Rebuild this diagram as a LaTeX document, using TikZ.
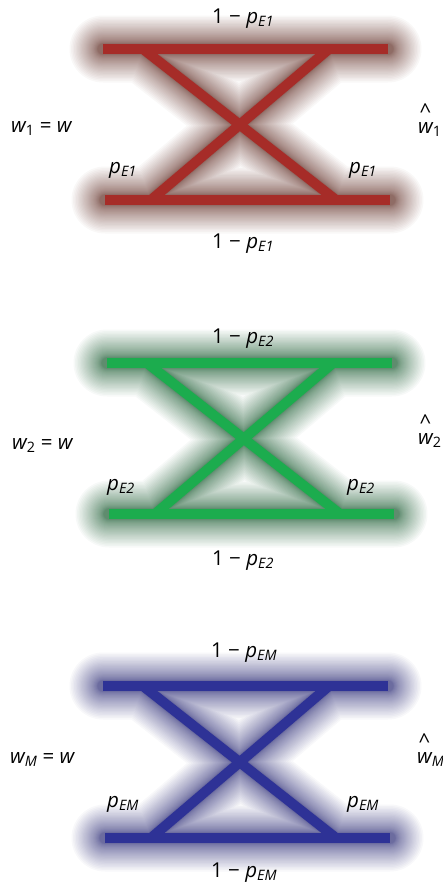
\documentclass[tikz,border=0pt]{standalone}
\usepackage{fontspec}
\setmainfont{Open Sans}
\definecolor{barred}{RGB}{166,44,40}
\definecolor{glowred}{RGB}{95,40,30}
\definecolor{bargreen}{RGB}{28,172,78}
\definecolor{glowgreen}{RGB}{20,90,45}
\definecolor{barblue}{RGB}{46,50,150}
\definecolor{glowblue}{RGB}{40,40,120}
\newcommand\pE[1]{{\itshape p}\textsubscript{\itshape E#1}}
\newcommand\wlab[1]{{\itshape w}\textsubscript{#1}}
\newcommand\what[1]{\shortstack[c]{\textasciicircum\hphantom{\textsubscript{#1}}\\[1pt]\wlab{#1}}}
\newcommand\chan[6]{%
  % #1 name, #2 bar colour, #3 glow colour, #4 top y, #5 bottom y, #6 x shift
  \begin{scope}[xshift=#6]
    \coordinate (#1a) at (103,#4); \coordinate (#1b) at (388,#4);
    \coordinate (#1c) at (105,#5); \coordinate (#1d) at (390,#5);
    \coordinate (#1tl) at (143,#4); \coordinate (#1br) at (336,#5);
    \coordinate (#1bl) at (151,#5); \coordinate (#1tr) at (329,#4);
    \foreach \i in {1,...,32}{
      \pgfmathsetmacro\lw{11+56*(\i/32)^1.8}
      \draw[#3, line width=\lw, draw opacity=0.03, line cap=round, shift={(6,7)}]
        (#1a) -- (#1b) (#1c) -- (#1d) (#1tl) -- (#1br) (#1bl) -- (#1tr);
    }
    \draw[bar, #2] (#1a) -- (#1b);
    \draw[bar, #2] (#1c) -- (#1d);
    \draw[bar, #2] (#1tl) -- (#1br);
    \draw[bar, #2] (#1bl) -- (#1tr);
  \end{scope}}
\begin{document}
\begin{tikzpicture}[x=1pt,y=-1pt,
  bar/.style={line width=10pt, line cap=butt},
  lab/.style={inner sep=0pt, anchor=base west, font=\fontsize{20.5}{22}\selectfont}]
\useasboundingbox[fill=white] (0,0) rectangle (443,889);
\chan{A}{barred}{glowred}{49}{200}{0}
\chan{B}{bargreen}{glowgreen}{363}{514}{4}
\chan{C}{barblue}{glowblue}{686}{838}{0}
% panel 1 labels
\node[lab] (A1) at (212,23) {1 − \pE{1}};
\node[lab] (A2) at (212,248) {1 − \pE{1}};
\node[lab] (A3) at (109,173) {\pE{1}};
\node[lab] (A4) at (349,173) {\pE{1}};
\node[lab] (A5) at (11,132) {\wlab{1} = {\itshape w}};
\node[lab] (A6) at (418,133) {\what{1}};
% panel 2 labels
\node[lab] (B1) at (212,343) {1 − \pE{2}};
\node[lab] (B2) at (212,565) {1 − \pE{2}};
\node[lab] (B3) at (107,490) {\pE{2}};
\node[lab] (B4) at (347,490) {\pE{2}};
\node[lab] (B5) at (12,449) {\wlab{2} = {\itshape w}};
\node[lab] (B6) at (418,444) {\what{2}};
% panel 3 labels
\node[lab] (C1) at (211,657) {1 − \pE{M}};
\node[lab] (C2) at (211,877) {1 − \pE{M}};
\node[lab] (C3) at (107,807) {\pE{M}};
\node[lab] (C4) at (347,807) {\pE{M}};
\node[lab] (C5) at (10,763) {\wlab{\itshape M} = {\itshape w}};
\node[lab] (C6) at (417,763) {\what{\itshape M}};
\end{tikzpicture}
\end{document}
